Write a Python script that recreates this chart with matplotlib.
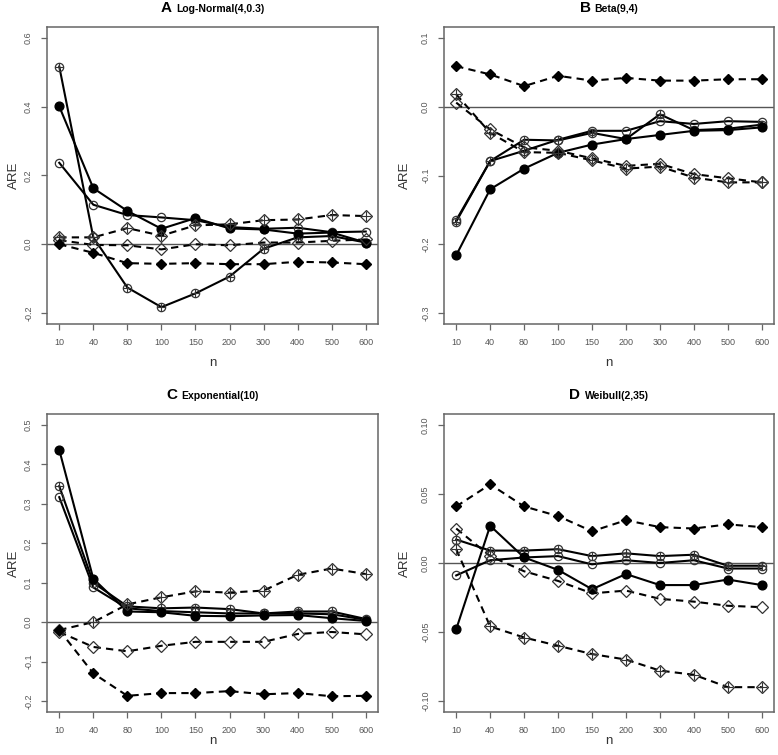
import numpy as np
import matplotlib
matplotlib.use('Agg')
import matplotlib.pyplot as plt
from matplotlib.offsetbox import TextArea, HPacker, AnchoredOffsetbox

plt.rcParams['font.family'] = ['Liberation Sans', 'DejaVu Sans']

# sample sizes on the x axis (equally spaced categories)
n_labels = ['10', '40', '80', '100', '150', '200', '300', '400', '500', '600']

# A  Log-Normal(4,0.3)
a_circ_open = [0.237, 0.115, 0.085, 0.078, 0.070, 0.050, 0.045, 0.048, 0.035, 0.037]
a_circ_plus = [0.517, 0.020, -0.126, -0.183, -0.143, -0.094, -0.013, 0.020, 0.024, 0.005]
a_circ_fill = [0.401, 0.163, 0.097, 0.045, 0.076, 0.046, 0.043, 0.031, 0.034, 0.005]
a_diam_open = [0.012, -0.002, -0.003, -0.015, 0.000, -0.003, 0.005, 0.005, 0.010, 0.014]
a_diam_plus = [0.020, 0.020, 0.047, 0.025, 0.055, 0.058, 0.070, 0.072, 0.085, 0.082]
a_diam_fill = [0.000, -0.025, -0.055, -0.057, -0.055, -0.058, -0.058, -0.051, -0.053, -0.058]

# B  Beta(9,4)
b_circ_open = [-0.165, -0.079, -0.064, -0.048, -0.035, -0.035, -0.021, -0.025, -0.021, -0.022]
b_circ_plus = [-0.167, -0.079, -0.048, -0.049, -0.038, -0.047, -0.011, -0.034, -0.032, -0.026]
b_circ_fill = [-0.216, -0.120, -0.090, -0.067, -0.055, -0.047, -0.041, -0.035, -0.034, -0.030]
b_diam_open = [0.006, -0.033, -0.059, -0.064, -0.075, -0.086, -0.083, -0.098, -0.104, -0.110]
b_diam_plus = [0.018, -0.038, -0.066, -0.067, -0.078, -0.090, -0.087, -0.103, -0.110, -0.110]
b_diam_fill = [0.059, 0.047, 0.030, 0.045, 0.038, 0.042, 0.038, 0.038, 0.040, 0.040]

# C  Exponential(10)
c_circ_open = [0.317, 0.088, 0.035, 0.028, 0.025, 0.022, 0.022, 0.022, 0.020, 0.006]
c_circ_plus = [0.345, 0.100, 0.040, 0.035, 0.037, 0.033, 0.022, 0.027, 0.027, 0.008]
c_circ_fill = [0.437, 0.110, 0.027, 0.025, 0.016, 0.015, 0.017, 0.018, 0.010, 0.003]
c_diam_open = [-0.025, -0.063, -0.074, -0.060, -0.050, -0.050, -0.050, -0.030, -0.025, -0.031]
c_diam_plus = [-0.020, 0.000, 0.045, 0.063, 0.078, 0.075, 0.080, 0.120, 0.136, 0.122]
c_diam_fill = [-0.020, -0.130, -0.187, -0.180, -0.180, -0.175, -0.183, -0.180, -0.188, -0.187]

# D  Weibull(2,35)
d_circ_open = [-0.009, 0.002, 0.004, 0.005, -0.001, 0.002, 0.000, 0.002, -0.004, -0.004]
d_circ_plus = [0.017, 0.009, 0.009, 0.010, 0.005, 0.007, 0.005, 0.006, -0.002, -0.002]
d_circ_fill = [-0.048, 0.027, 0.004, -0.005, -0.019, -0.008, -0.016, -0.016, -0.012, -0.016]
d_diam_open = [0.025, 0.005, -0.006, -0.013, -0.022, -0.020, -0.026, -0.028, -0.031, -0.032]
d_diam_plus = [0.010, -0.046, -0.054, -0.060, -0.066, -0.070, -0.078, -0.081, -0.090, -0.090]
d_diam_fill = [0.041, 0.057, 0.041, 0.034, 0.023, 0.031, 0.026, 0.025, 0.028, 0.026]

panels = [
    ('A', 'Log-Normal(4,0.3)', (-0.2, 0.6), [-0.2, 0.0, 0.2, 0.4, 0.6], '%.1f',
     [a_circ_open, a_circ_plus, a_circ_fill, a_diam_open, a_diam_plus, a_diam_fill]),
    ('B', 'Beta(9,4)', (-0.3, 0.1), [-0.3, -0.2, -0.1, 0.0, 0.1], '%.1f',
     [b_circ_open, b_circ_plus, b_circ_fill, b_diam_open, b_diam_plus, b_diam_fill]),
    ('C', 'Exponential(10)', (-0.2, 0.5), [-0.2, -0.1, 0.0, 0.1, 0.2, 0.3, 0.4, 0.5], '%.1f',
     [c_circ_open, c_circ_plus, c_circ_fill, c_diam_open, c_diam_plus, c_diam_fill]),
    ('D', 'Weibull(2,35)', (-0.1, 0.1), [-0.10, -0.05, 0.0, 0.05, 0.10], '%.2f',
     [d_circ_open, d_circ_plus, d_circ_fill, d_diam_open, d_diam_plus, d_diam_fill]),
]

# marker style for each of the six series: (marker, filled, crossed, dashed, size)
styles = [('o', False, False, False, 6.0),
          ('o', False, True,  False, 6.0),
          ('o', True,  False, False, 6.3),
          ('D', False, False, True,  6.5),
          ('D', False, True,  True,  6.5),
          ('D', True,  False, True,  5.0)]

W, H = 778, 755
# axes boxes in pixels (left, top, right, bottom), and where the ARE label's right edge sits
boxes = [(47, 27, 378, 324), (444, 27, 774, 324),
         (47, 414, 378, 712), (444, 414, 774, 712)]
ylab_off = [-27, -33, -27, -33]
xlab_pad = [7, 7, 0, 0]

fig = plt.figure(figsize=(W / 100, H / 100), dpi=100)
frame_col = '#666666'
tick_col = '#555555'

x = np.arange(1, len(n_labels) + 1)
for i, ((letter, sub, ylim, yticks, fmt, series), (l, t, r, b)) in enumerate(zip(panels, boxes)):
    ax = fig.add_axes([l / W, 1 - b / H, (r - l) / W, (b - t) / H])
    ax.axhline(0, color='#555555', lw=1.0, zorder=1)
    for vals, (mk, filled, crossed, dashed, ms) in zip(series, styles):
        ls = (0, (3.5, 2.5)) if dashed else '-'
        ax.plot(x, vals, color='black', lw=1.5, ls=ls, zorder=2)
        if filled:
            ax.plot(x, vals, ls='none', marker=mk, ms=ms, color='black',
                    mec='black', zorder=3)
        else:
            ax.plot(x, vals, ls='none', marker=mk, ms=ms, mfc='none',
                    mec='#333333', mew=0.9, zorder=3)
            if crossed:
                ax.plot(x, vals, ls='none', marker='+', ms=ms * (0.95 if mk == 'o' else 1.2),
                        mec='#333333', mew=0.8, zorder=3)
    span = ylim[1] - ylim[0]
    ax.set_ylim(ylim[0] - 0.04 * span, ylim[1] + 0.04 * span)
    ax.set_xlim(1 - 0.04 * 9, 10 + 0.04 * 9)
    ax.set_xticks(x)
    ax.set_xticklabels(n_labels)
    ax.set_yticks(yticks)
    ax.set_yticklabels([fmt % v for v in yticks], rotation=90, va='center')
    ax.tick_params(direction='out', length=4, width=0.9, color=frame_col,
                   labelcolor=tick_col, labelsize=6.5, pad=6)
    for sp in ax.spines.values():
        sp.set_color(frame_col)
        sp.set_linewidth(1.1)
    ax.set_xlabel('n', fontsize=9.5, color='#333333', labelpad=xlab_pad[i])
    ax.set_ylabel('ARE', fontsize=9.5, color='#333333')
    ax.yaxis.set_label_coords(ylab_off[i] / (r - l), 0.5)

    # bold panel letter followed by the smaller distribution name
    title = HPacker(children=[TextArea(letter, textprops=dict(size=11, weight='bold')),
                              TextArea(sub, textprops=dict(size=7.5, weight='bold'))],
                    align='baseline', pad=0, sep=3)
    anch = AnchoredOffsetbox(loc='lower center', child=title, pad=0, borderpad=0,
                             frameon=False, bbox_to_anchor=(0.5, 1.04),
                             bbox_transform=ax.transAxes)
    ax.add_artist(anch)

fig.savefig('out.png', dpi=100)
